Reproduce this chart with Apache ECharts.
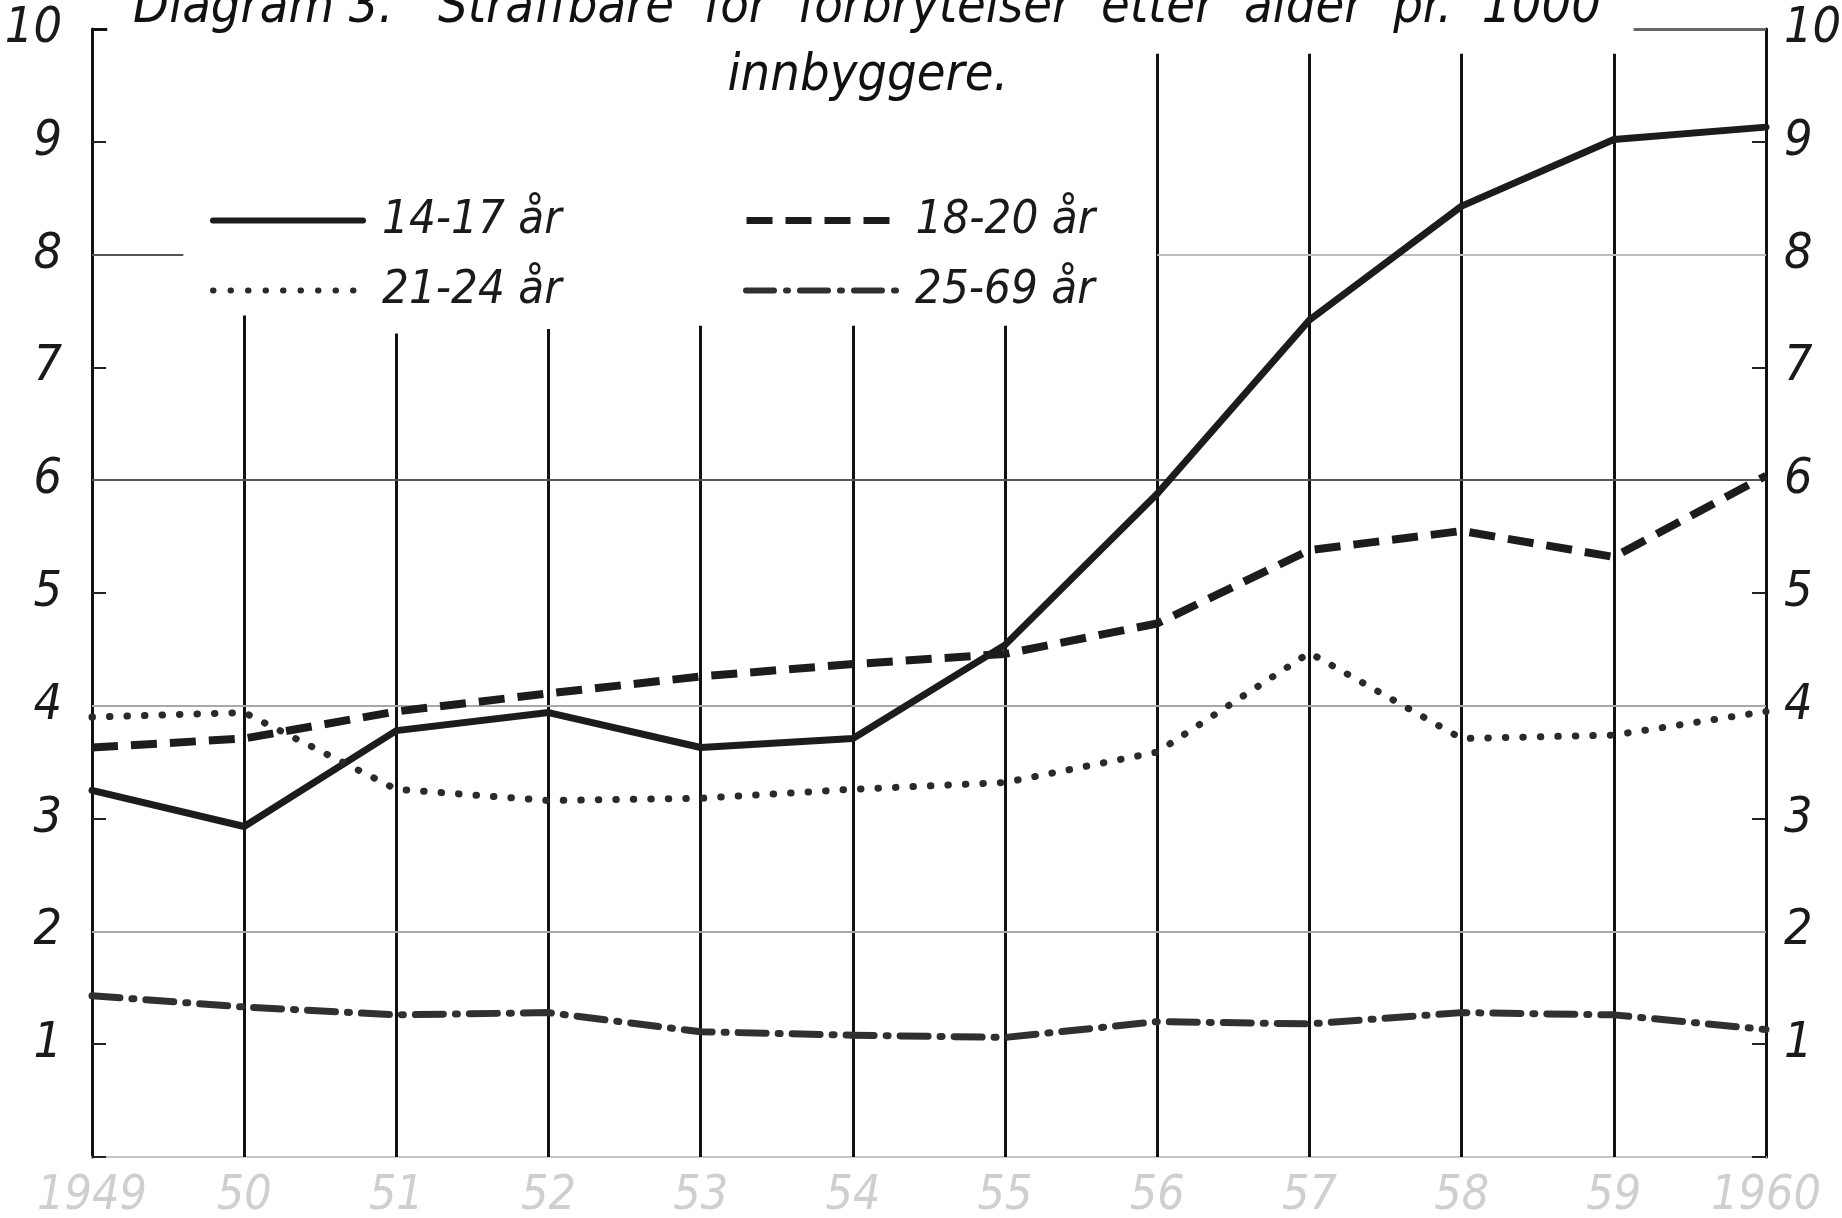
<!DOCTYPE html>
<html><head><meta charset="utf-8">
<script src="https://cdn.jsdelivr.net/npm/echarts@6/dist/echarts.min.js"></script>
<style>html,body{margin:0;padding:0;background:#fff}#c{width:1842px;height:1218px}</style>
</head><body><div id="c"></div>
<script>
const years = [1949,1950,1951,1952,1953,1954,1955,1956,1957,1958,1959,1960];
const xTickLabels = ['1949','50','51','52','53','54','55','56','57','58','59','1960'];
const yTickLabels = ['','1','2','3','4','5','6','7','8','9','10'];
const seriesNames = ['14-17 år','18-20 år','21-24 år','25-69 år'];
const s1417 = [3.25,2.93,3.78,3.94,3.63,3.71,4.54,5.88,7.42,8.43,9.02,9.13];
const s1820 = [3.63,3.71,3.95,4.11,4.26,4.37,4.46,4.73,5.38,5.55,5.32,6.04];
const s2124 = [3.90,3.94,3.26,3.16,3.18,3.26,3.32,3.59,4.47,3.71,3.74,3.95];
const s2569 = [1.43,1.33,1.26,1.28,1.11,1.08,1.06,1.20,1.18,1.28,1.26,1.13];
// top value reached by each drawn vertical year line (1950..1959)
const vlineTops = [7.46,7.30,7.34,7.37,7.37,7.37,9.78,9.78,9.78,9.78];

const FONT = '"DejaVu Sans Condensed","DejaVu Sans",sans-serif';
const chart = echarts.init(document.getElementById('c'));
const pairs = arr => years.map((y,i)=>[y,arr[i]]);

const mk = [];
years.slice(1,11).forEach((y,i)=>{
  mk.push([{coord:[y,vlineTops[i]],lineStyle:{color:'#111',width:3,type:'solid'}},{coord:[y,0]}]);
});
const hl = (x0,x1,v,color,w)=>[{coord:[x0,v],lineStyle:{color:color,width:w,type:'solid'}},{coord:[x1,v]}];
mk.push(hl(1949,1960,2,'#a8a8a8',2));
mk.push(hl(1949,1960,4,'#a8a8a8',2));
mk.push(hl(1949,1960,6,'#555',2));
mk.push(hl(1956,1960,8,'#bdbdbd',2));
mk.push(hl(1949,1949.6,8,'#555',2));
mk.push(hl(1959.13,1960,10,'#666',3));
mk.push(hl(1949,1949.1,10,'#111',3));

const styles = [
  {type:'solid',width:7,color:'#1c1c1c',cap:'round'},
  {type:[26,13],width:8,color:'#1c1c1c',cap:'butt'},
  {type:[0.5,17],width:7,color:'#2a2a2a',cap:'round'},
  {type:[28,12,2,12],width:7,color:'#303030',cap:'round'}
];

const lineSeries = (i,arr)=>({
  name:seriesNames[i], type:'line', data:pairs(arr), symbol:'none', smooth:false, z:5,
  lineStyle:Object.assign({join:'round'},styles[i]),
  itemStyle:{color:styles[i].color}
});

const legendPos = [[205,192],[738,192],[205,262],[738,262]];
const legends = seriesNames.map((n,i)=>({
  data:[n], left:legendPos[i][0], top:legendPos[i][1],
  itemWidth:150, itemHeight:24,
  itemStyle:{opacity:0},
  lineStyle:Object.assign({},styles[i],{width:styles[i].width-1}),
  textStyle:{fontFamily:FONT,fontStyle:'italic',fontSize:47,color:'#1a1a1a',padding:[0,0,0,14]}
}));

chart.setOption({
  animation:false,
  backgroundColor:'#fff',
  grid:{left:92,right:76,top:29,bottom:61,containLabel:false,outerBoundsMode:'none'},
  legend:legends,
  graphic:[
    {type:'text',x:867,y:8,style:{text:'Diagram 3.   Straffbare  for  forbrytelser  etter  alder  pr.  1000',fontFamily:FONT,fontStyle:'italic',fontSize:52,fill:'#111',textAlign:'center',textVerticalAlign:'middle'}},
    {type:'text',x:868,y:76,style:{text:'innbyggere.',fontFamily:FONT,fontStyle:'italic',fontSize:52,fill:'#111',textAlign:'center',textVerticalAlign:'middle'}}
  ],
  xAxis:{type:'value',min:1949,max:1960,interval:1,
    axisLine:{lineStyle:{color:'#c4c4c4',width:2}},axisTick:{show:false},splitLine:{show:false},
    axisLabel:{margin:16,fontFamily:FONT,fontStyle:'italic',fontSize:48,color:'#cfcfcf',
      formatter:v=>xTickLabels[Math.round(v)-1949]||''}},
  yAxis:[
    {type:'value',min:0,max:10,interval:1,position:'left',
      axisLine:{show:true,lineStyle:{color:'#111',width:3}},
      axisTick:{show:true,inside:true,length:14,lineStyle:{color:'#222',width:2}},
      splitLine:{show:false},
      axisLabel:{margin:30,fontFamily:FONT,fontStyle:'italic',fontSize:50,color:'#1a1a1a',formatter:v=>yTickLabels[Math.round(v)]}},
    {type:'value',min:0,max:10,interval:1,position:'right',
      axisLine:{show:true,lineStyle:{color:'#111',width:3}},
      axisTick:{show:true,inside:true,length:14,lineStyle:{color:'#222',width:2}},
      splitLine:{show:false},
      axisLabel:{margin:18,fontFamily:FONT,fontStyle:'italic',fontSize:50,color:'#1a1a1a',formatter:v=>yTickLabels[Math.round(v)]}}
  ],
  series:[
    {type:'line',data:[],silent:true,z:1,markLine:{silent:true,symbol:['none','none'],label:{show:false},animation:false,data:mk}},
    lineSeries(0,s1417),
    lineSeries(1,s1820),
    lineSeries(2,s2124),
    lineSeries(3,s2569)
  ]
});
</script></body></html>
